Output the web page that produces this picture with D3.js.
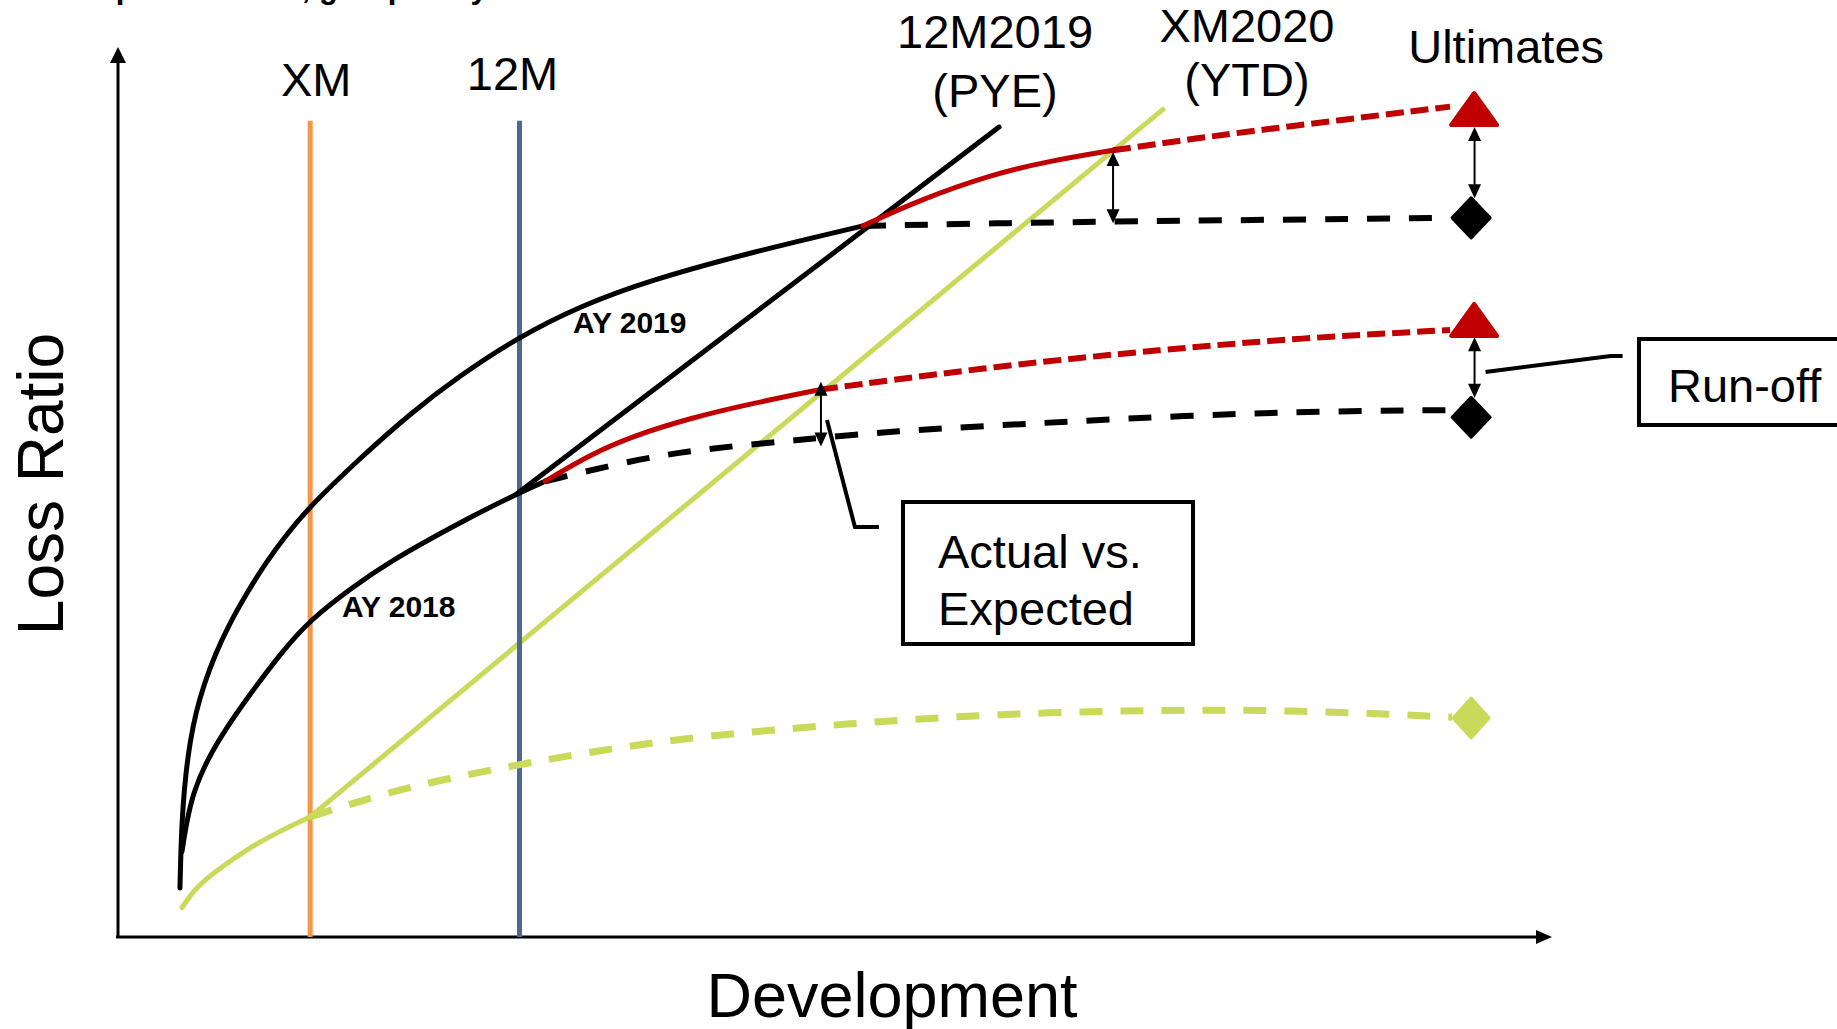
<!DOCTYPE html>
<html>
<head>
<meta charset="utf-8">
<script src="https://cdn.jsdelivr.net/npm/d3@7"></script>
<style>
  html, body { margin: 0; padding: 0; background: #ffffff; overflow: hidden; }
  svg { display: block; }
  text { font-family: "Liberation Sans", Arial, Helvetica, sans-serif; fill: #000; }
</style>
</head>
<body>
<svg id="chart" width="1837" height="1029"></svg>
<script>
// ---- Development milestones (position on the development axis) ----
const milestoneNames = ["XM", "12M"];
const milestoneDev = [13.4, 28.0];
const milestoneTop = 91.7;

// ---- Loss ratio development curves: [development, loss ratio] ----
// AY 2019, reported to the prior year end
const ay2019Reported = [
  [4.32, 5.5], [4.39, 10.3], [4.53, 14.8], [4.74, 18.5], [5.02, 21.9], [5.44, 25.3],
  [6.00, 28.4], [6.76, 31.7], [7.74, 35.1], [8.93, 38.5], [10.32, 42.1], [11.79, 45.3],
  [13.39, 48.4], [16.88, 53.8], [20.36, 58.8], [23.85, 63.1], [27.82, 67.3],
  [32.22, 70.9], [37.10, 73.8], [44.07, 76.9], [51.95, 79.9]
];
// AY 2018, reported to the prior year end
const ay2018Reported = [
  [4.46, 9.6], [4.74, 12.5], [5.23, 16.2], [6.21, 19.9], [7.60, 23.6], [9.21, 27.3],
  [11.51, 32.2], [13.39, 35.6], [16.18, 39.1], [18.83, 42.1], [23.85, 46.6],
  [27.82, 49.8], [29.78, 51.2]
];
// Emergence during the current year (actual)
const ay2019Actual = [[51.95, 79.9], [55.86, 82.8], [60.95, 85.7], [64.99, 87.2], [69.39, 88.4]];
const ay2018Actual = [[29.78, 51.2], [32.91, 54.2], [35.91, 56.3], [39.89, 58.3], [44.07, 59.9], [48.95, 61.5]];
// Projection from the current actuals to ultimate
const ay2019Projected = [[69.39, 88.4], [75.45, 89.8], [81.24, 91.0], [92.89, 93.3]];
const ay2018Projected = [[48.95, 61.5], [61.51, 64.2], [72.87, 66.0], [82.43, 67.3], [92.89, 68.2]];
// Expected development from the prior year end
const ay2019Expected = [[51.95, 79.9], [61.51, 80.2], [69.53, 80.4], [92.89, 80.8]];
const ay2018Expected = [
  [29.78, 51.2], [35.91, 53.6], [40.59, 54.8], [47.07, 55.8], [54.53, 56.9],
  [61.51, 57.5], [78.94, 59.0], [92.89, 59.2]
];
// AY 2020: year to date and expected pattern
const ay2020Reported = [[4.46, 3.3], [5.44, 5.6], [6.90, 7.5], [9.21, 10.1], [11.30, 11.9], [13.39, 13.5]];
const ay2020Expected = [
  [13.39, 13.5], [19.67, 16.7], [26.64, 19.0], [33.61, 21.0], [40.79, 22.6], [51.05, 24.0],
  [61.51, 25.1], [72.25, 25.5], [82.43, 25.5], [93.03, 24.7]
];

// ---- Calendar diagonals ----
const diagonalPYE = [[27.82, 49.8], [61.44, 91.0]];
const diagonalYTD = [[13.39, 13.5], [72.87, 93.0]];

// ---- Ultimates ----
const ultimateDev = 94.5;
const ultimateActualBased = [93.03, 69.33];   // AY 2019, AY 2018 (triangles)
const ultimateExpected = [80.8, 58.4];        // AY 2019, AY 2018 (diamonds)
const ultimateAY2020 = 24.6;

// ---- Gap arrows: [development, from, to] ----
const aveArrows = [[69.39, 88.2, 80.2], [49.02, 62.4, 55.1]];
const runoffArrows = [[94.6, 91.0, 83.0], [94.6, 67.4, 60.6]];

// ---- Text ----
const axisTitles = { x: "Development", y: "Loss Ratio" };
const diagonalLabels = [["12M2019", "(PYE)"], ["XM2020", "(YTD)"]];
const ultimateLabel = "Ultimates";
const curveLabels = ["AY 2019", "AY 2018"];
const boxLabels = { ave: ["Actual vs.", "Expected"], runoff: ["Run-off"] };
const captionLine = "Development ratios, grouped by AY";

// ---------------------------------------------------------------------
const svg = d3.select("#chart");
const x = d3.scaleLinear().domain([0, 100]).range([118, 1552]);
const y = d3.scaleLinear().domain([0, 100]).range([937, 47]);

const COL = { orange: "#F79646", blue: "#4D6891", green: "#C9DA5B", red: "#C00000", black: "#000000" };

const smooth = d3.line().x(d => x(d[0])).y(d => y(d[1])).curve(d3.curveBasis);
const straight = d3.line().x(d => x(d[0])).y(d => y(d[1]));

function path(data, gen, color, width, dash) {
  const p = svg.append("path")
    .attr("d", gen(data))
    .attr("fill", "none")
    .attr("stroke", color)
    .attr("stroke-width", width)
    .attr("stroke-linecap", dash ? "butt" : "round")
    .attr("stroke-linejoin", "round");
  if (dash) p.attr("stroke-dasharray", dash);
  return p;
}

// caption line above the chart (only its lower part is on the page)
svg.append("text").attr("x", 14).attr("y", -2.5)
  .attr("font-size", 31).attr("font-weight", "bold").text(captionLine);

// axes with arrowheads
const x0 = x(0), y0 = y(0);
svg.append("line").attr("x1", x0).attr("y1", y0).attr("x2", x0).attr("y2", y(100) + 14)
  .attr("stroke", "#000").attr("stroke-width", 3);
svg.append("path").attr("d", d3.line()([[x0, y(100)], [x0 - 8, y(100) + 16], [x0 + 8, y(100) + 16]]) + "Z")
  .attr("fill", "#000");
svg.append("line").attr("x1", x0 - 2).attr("y1", y0).attr("x2", x(100) - 14).attr("y2", y0)
  .attr("stroke", "#000").attr("stroke-width", 3);
svg.append("path").attr("d", d3.line()([[x(100), y0], [x(100) - 16, y0 - 7], [x(100) - 16, y0 + 7]]) + "Z")
  .attr("fill", "#000");

// axis titles
svg.append("text").attr("x", 892).attr("y", 1017).attr("text-anchor", "middle")
  .attr("font-size", 63).text(axisTitles.x);
svg.append("text").attr("transform", "translate(63,484) rotate(-90)").attr("text-anchor", "middle")
  .attr("font-size", 64).text(axisTitles.y);

// YTD calendar diagonal (behind the milestones)
path(diagonalYTD, straight, COL.green, 5);

// milestone verticals
const milestoneColors = [COL.orange, COL.blue];
const milestoneLabelShift = [6, -7];
const milestoneLabelBase = [96, 90];
milestoneDev.forEach((d, i) => {
  svg.append("line").attr("x1", x(d)).attr("x2", x(d)).attr("y1", y(milestoneTop)).attr("y2", y(0))
    .attr("stroke", milestoneColors[i]).attr("stroke-width", 5);
  svg.append("text").attr("x", x(d) + milestoneLabelShift[i]).attr("y", milestoneLabelBase[i])
    .attr("text-anchor", "middle").attr("font-size", 47).text(milestoneNames[i]);
});

// AY 2020 curves
path(ay2020Expected, smooth, COL.green, 7, "23 18");
path(ay2020Reported, smooth, COL.green, 5);

// expected (dashed black)
path(ay2018Expected, smooth, COL.black, 6, "23 19");
path(ay2019Expected, smooth, COL.black, 6, "23 19");

// reported curves
path(ay2019Reported, smooth, COL.black, 5);
path(ay2018Reported, smooth, COL.black, 5);

// PYE diagonal
path(diagonalPYE, straight, COL.black, 5);

// actual emergence and projections
path(ay2019Actual, smooth, COL.red, 5);
path(ay2018Actual, smooth, COL.red, 5);
path(ay2019Projected, smooth, COL.red, 6, "18 7");
path(ay2018Projected, smooth, COL.red, 6, "18 7");

// curve labels
svg.append("text").attr("x", 573).attr("y", 333).attr("font-size", 30).attr("font-weight", "bold").text(curveLabels[0]);
svg.append("text").attr("x", 342).attr("y", 617).attr("font-size", 30).attr("font-weight", "bold").text(curveLabels[1]);

// diagonal labels
const diagTops = [diagonalPYE[1], diagonalYTD[1]];
const diagLabelShift = [-4, 84];
const diagLabelBase = [[48, 107], [42, 96]];
diagonalLabels.forEach((lines, i) => {
  lines.forEach((t, j) => {
    svg.append("text").attr("x", x(diagTops[i][0]) + diagLabelShift[i]).attr("y", diagLabelBase[i][j])
      .attr("text-anchor", "middle").attr("font-size", 47).text(t);
  });
});
svg.append("text").attr("x", x(ultimateDev) + 33).attr("y", 63).attr("text-anchor", "middle")
  .attr("font-size", 47).text(ultimateLabel);

// ultimate markers
function triangle(cx, cy, color) {
  svg.append("path")
    .attr("d", d3.line()([[cx, cy - 16], [cx - 23, cy + 16], [cx + 23, cy + 16]]) + "Z")
    .attr("fill", color).attr("stroke", color).attr("stroke-width", 4).attr("stroke-linejoin", "round");
}
function diamond(cx, cy, hw, hh, color) {
  svg.append("path")
    .attr("d", d3.line()([[cx, cy - hh], [cx + hw, cy], [cx, cy + hh], [cx - hw, cy]]) + "Z")
    .attr("fill", color).attr("stroke", color).attr("stroke-width", 3).attr("stroke-linejoin", "round");
}
ultimateActualBased.forEach(v => triangle(x(ultimateDev) + 1, y(v), COL.red));
ultimateExpected.forEach(v => diamond(x(ultimateDev) - 2, y(v), 19, 20, COL.black));
diamond(x(ultimateDev) - 2, y(ultimateAY2020), 18, 20, COL.green);

// double-headed gap arrows
function doubleArrow(d, from, to) {
  const X = x(d), top = y(from), bot = y(to);
  svg.append("line").attr("x1", X).attr("x2", X).attr("y1", top + 10).attr("y2", bot - 10)
    .attr("stroke", "#000").attr("stroke-width", 2);
  svg.append("path").attr("d", d3.line()([[X, top], [X - 6.5, top + 14], [X + 6.5, top + 14]]) + "Z").attr("fill", "#000");
  svg.append("path").attr("d", d3.line()([[X, bot], [X - 6.5, bot - 14], [X + 6.5, bot - 14]]) + "Z").attr("fill", "#000");
}
aveArrows.forEach(a => doubleArrow(a[0], a[1], a[2]));
runoffArrows.forEach(a => doubleArrow(a[0], a[1], a[2]));

// call-out boxes with leaders
const aveX = x(aveArrows[1][0]);
svg.append("path").attr("d", d3.line()([[aveX + 6, 420], [aveX + 34, 527], [aveX + 58, 527]]))
  .attr("fill", "none").attr("stroke", "#000").attr("stroke-width", 4);
svg.append("rect").attr("x", 903).attr("y", 502).attr("width", 290).attr("height", 142)
  .attr("fill", "#fff").attr("stroke", "#000").attr("stroke-width", 4);
boxLabels.ave.forEach((t, j) => {
  svg.append("text").attr("x", 938).attr("y", 568 + j * 57).attr("font-size", 47).text(t);
});

const roX = x(runoffArrows[1][0]);
svg.append("path").attr("d", d3.line()([[roX + 11, 372], [roX + 136, 356], [roX + 148, 356]]))
  .attr("fill", "none").attr("stroke", "#000").attr("stroke-width", 4);
svg.append("rect").attr("x", 1639).attr("y", 339).attr("width", 240).attr("height", 86)
  .attr("fill", "#fff").attr("stroke", "#000").attr("stroke-width", 4);
boxLabels.runoff.forEach(t => {
  svg.append("text").attr("x", 1668).attr("y", 402).attr("font-size", 47).text(t);
});
</script>
</body>
</html>
